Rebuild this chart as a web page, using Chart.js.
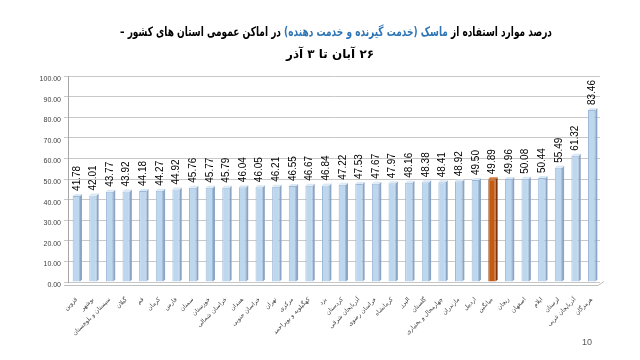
<!DOCTYPE html>
<html><head><meta charset="utf-8">
<script src="https://cdn.jsdelivr.net/npm/chart.js@4/dist/chart.umd.min.js"></script>
<style>
html,body{margin:0;padding:0;background:#fff;}
#wrap{position:relative;width:640px;height:360px;overflow:hidden;}
#c{position:absolute;left:0;top:0;}
.t{position:absolute;white-space:nowrap;direction:rtl;font-family:"DejaVu Sans",sans-serif;font-weight:bold;color:#000;transform-origin:0 0;}
#t1{top:24px;font-size:13px;}
#t2{top:47px;font-size:12px;}
#pg{position:absolute;left:582px;top:337px;font-family:"Liberation Sans",Arial,sans-serif;font-size:9px;color:#595959;}
.blue{color:#2e75b6;}
</style></head>
<body><div id="wrap">
<canvas id="c" width="640" height="360"></canvas>
<div class="t" id="t1">درصد موارد استفاده از <span class="blue">ماسک (خدمت گیرنده و خدمت دهنده)</span> در اماکن عمومی استان های کشور –</div>
<div class="t" id="t2">۲۶ آبان تا ۳ آذر</div>
<div id="pg">10</div>
</div>
<script>
const provinces = ["قزوین","بوشهر","سیستان و بلوچستان","گیلان","قم","کرمان","فارس","سمنان","خوزستان","خراسان شمالی","همدان","خراسان جنوبی","تهران","مرکزی","کهگیلویه و بویراحمد","یزد","کردستان","آذربایجان شرقی","خراسان رضوی","کرمانشاه","البرز","گلستان","چهارمحال و بختیاری","مازندران","اردبیل","میانگین","زنجان","اصفهان","ایلام","لرستان","آذربایجان غربی","هرمزگان"];
const maskPercent = [41.78,42.01,43.77,43.92,44.18,44.27,44.92,45.76,45.77,45.79,46.04,46.05,46.21,46.55,46.67,46.84,47.22,47.53,47.67,47.97,48.16,48.38,48.41,48.92,49.50,49.89,49.96,50.08,50.44,55.49,61.32,83.46];
const averageLabel = "میانگین";
const yTicks = [0,10,20,30,40,50,60,70,80,90,100];

// fit title lines to the reference widths
function fitTitle(id, left, width) {
  const el = document.getElementById(id);
  const w = el.getBoundingClientRect().width;
  el.style.left = left + "px";
  el.style.transform = "scaleX(" + (width / w) + ")";
}
fitTitle("t1", 120, 432);
fitTitle("t2", 286, 88);

const fills = provinces.map(p => p === averageLabel ? "#c55a11" : "#bdd7ee");
const edges = provinces.map(p => p === averageLabel ? "#9a4510" : "#9db8d6");

const labelPlugin = {
  id: "vlabels",
  afterDatasetsDraw(chart) {
    const ctx = chart.ctx;
    const meta = chart.getDatasetMeta(0);
    ctx.save();
    ctx.font = "10px 'Liberation Sans', Arial, sans-serif";
    ctx.fillStyle = "#000";
    ctx.textAlign = "left";
    ctx.textBaseline = "middle";
    meta.data.forEach((bar, i) => {
      ctx.save();
      ctx.translate(bar.x + 0.5, bar.y - 5);
      ctx.rotate(-Math.PI / 2);
      ctx.fillText(maskPercent[i].toFixed(2), 0, 0);
      ctx.restore();
    });
    ctx.restore();
  }
};

const wallPlugin = {
  id: "wall3d",
  beforeDatasetsDraw(chart) {
    const ctx = chart.ctx;
    const a = chart.chartArea;
    ctx.save();
    ctx.strokeStyle = "#bfbfbf";
    ctx.lineWidth = 1;
    // floor front edge with slant at the right end
    ctx.beginPath();
    ctx.moveTo(a.left - 4, a.bottom + 3.5);
    ctx.lineTo(a.right - 2, a.bottom + 3.5);
    ctx.lineTo(a.right + 4, a.bottom - 0.5);
    ctx.stroke();
    ctx.restore();
  }
};

const sidePlugin = {
  id: "side3d",
  afterDatasetsDraw(chart) {
    const ctx = chart.ctx;
    const meta = chart.getDatasetMeta(0);
    ctx.save();
    meta.data.forEach((bar, i) => {
      const w = bar.width;
      const right = bar.x + w / 2;
      const avg = provinces[i] === averageLabel;
      ctx.fillStyle = avg ? "#7d3408" : "#8aa5c6";
      ctx.beginPath();
      ctx.moveTo(right, bar.y);
      ctx.lineTo(right + 2, bar.y - 2);
      ctx.lineTo(right + 2, bar.base - 2);
      ctx.lineTo(right, bar.base);
      ctx.closePath();
      ctx.fill();
      ctx.fillStyle = avg ? "#d9773a" : "#dbe9f6";
      ctx.beginPath();
      ctx.moveTo(bar.x - w / 2, bar.y);
      ctx.lineTo(bar.x - w / 2 + 2, bar.y - 2);
      ctx.lineTo(right + 2, bar.y - 2);
      ctx.lineTo(right, bar.y);
      ctx.closePath();
      ctx.fill();
    });
    ctx.restore();
  }
};

new Chart(document.getElementById("c"), {
  type: "bar",
  data: {
    labels: provinces,
    datasets: [{
      data: maskPercent,
      backgroundColor: fills,
      borderColor: edges,
      borderWidth: 1,
      categoryPercentage: 1,
      barPercentage: 0.44
    }]
  },
  options: {
    responsive: false,
    animation: false,
    layout: { padding: { top: 76, left: 0, right: 40, bottom: 0 } },
    plugins: { legend: { display: false }, tooltip: { enabled: false }, title: { display: false } },
    scales: {
      x: {
        grid: { display: false },
        border: { display: false },
        ticks: {
          minRotation: 45, maxRotation: 45, autoSkip: false,
          font: { family: "DejaVu Sans", size: 6 }, color: "#404040", padding: 6
        },
        afterFit(s) { s.height = 78; }
      },
      y: {
        min: 0, max: 100,
        afterBuildTicks(s) { s.ticks = yTicks.map(v => ({ value: v })); },
        grid: { color: "#c8c8c8", drawTicks: true, tickLength: 4 },
        border: { color: "#a6a6a6" },
        ticks: {
          font: { family: "Liberation Sans", size: 7 }, color: "#404040", padding: 3,
          labelOffset: 3,
          callback: v => Number(v).toFixed(2)
        },
        afterFit(s) { s.width = 68; }
      }
    }
  },
  plugins: [wallPlugin, sidePlugin, labelPlugin]
});
</script>
</body></html>
